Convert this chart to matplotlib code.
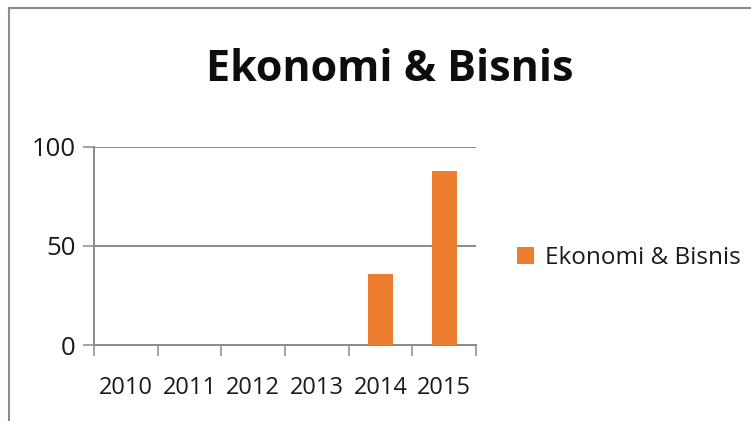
import matplotlib
matplotlib.use("Agg")
import matplotlib.pyplot as plt
from matplotlib.lines import Line2D

plt.rcParams['font.family'] = ['Open Sans', 'DejaVu Sans']

years = ['2010', '2011', '2012', '2013', '2014', '2015']
values = [0, 0, 0, 0, 36, 88]
series_name = 'Ekonomi & Bisnis'
y_ticks = [0, 50, 100]

BAR_COLOR = '#ED7D31'
GRID_COLOR = '#8a8a8a'
TEXT_COLOR = '#1a1a1a'

fig = plt.figure(figsize=(7.51, 4.21), dpi=100)
ax = fig.add_axes([0.125, 0.1805, 0.509, 0.4705])

x = list(range(len(years)))
ax.bar(x, values, width=0.39, color=BAR_COLOR, label=series_name, zorder=3)

ax.set_xlim(-0.5, len(years) - 0.5)
ax.set_ylim(0, 100)
ax.set_yticks(y_ticks)
ax.set_xticks(x)
ax.set_xticklabels(years)
ax.set_xticks([i - 0.5 for i in range(len(years) + 1)], minor=True)

ax.yaxis.grid(True, color=GRID_COLOR, linewidth=1.4, zorder=0)
ax.tick_params(axis='y', length=8, width=1.1, color=GRID_COLOR, labelsize=18.5,
               labelcolor=TEXT_COLOR, pad=5)
ax.tick_params(axis='x', which='major', length=0, labelsize=17,
               labelcolor=TEXT_COLOR, pad=22)
ax.tick_params(axis='x', which='minor', length=8, width=1.1, color=GRID_COLOR)

for side in ['top', 'right']:
    ax.spines[side].set_visible(False)
for side in ['left', 'bottom']:
    ax.spines[side].set_color(GRID_COLOR)
    ax.spines[side].set_linewidth(1.4)

fig.text(0.5186, 0.834, series_name, ha='center', va='center',
         fontsize=31, fontweight='bold', color='#0d0d0d')

fig.legend(loc='center left', bbox_to_anchor=(0.688, 0.387), frameon=False,
           fontsize=17.5, handlelength=0.7, handleheight=0.7,
           handletextpad=0.45, borderpad=0, borderaxespad=0,
           labelcolor=TEXT_COLOR)

# outer chart frame (top and left edges)
fig.add_artist(Line2D([9 / 751, 1], [1 - 8 / 421, 1 - 8 / 421],
                      transform=fig.transFigure, color='#8c8c8c', linewidth=1.5))
fig.add_artist(Line2D([9 / 751, 9 / 751], [0, 1 - 8 / 421],
                      transform=fig.transFigure, color='#8c8c8c', linewidth=1.5))

fig.savefig('out.png', dpi=100)
